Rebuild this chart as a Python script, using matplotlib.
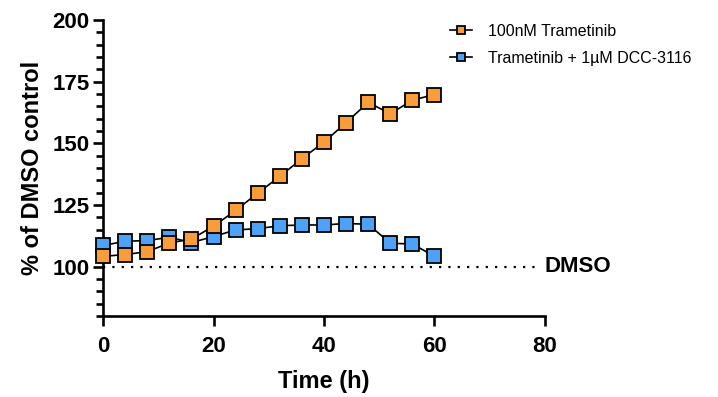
import matplotlib
matplotlib.use("Agg")
import matplotlib.pyplot as plt
from matplotlib.ticker import MultipleLocator

plt.rcParams['font.family'] = ['Liberation Sans', 'DejaVu Sans']

# time points (h)
time_h = [0, 4, 8, 12, 16, 20, 24, 28, 32, 36, 40, 44, 48, 52, 56, 60]
# % of DMSO control
trametinib = [104.2, 104.9, 106.1, 109.6, 111.2, 116.4, 122.8, 129.8, 136.6, 143.8,
              150.5, 158.4, 166.6, 162.0, 167.5, 169.8]
combo = [108.6, 110.3, 110.6, 111.9, 109.8, 112.2, 114.9, 115.4, 116.6, 116.9,
         116.9, 117.5, 117.2, 109.5, 109.2, 104.2]
labels = ["100nM Trametinib", "Trametinib + 1µM DCC-3116"]

fig = plt.figure(figsize=(7.18, 3.97), dpi=100)
ax = fig.add_axes([0.1435, 0.204, 0.6155, 0.7456])

ax.plot(time_h, trametinib, color='black', lw=1.2, marker='s', ms=10.5,
        mfc='#F99D3A', mec='black', mew=1.3, label=labels[0], zorder=4, clip_on=False)
ax.plot(time_h, combo, color='black', lw=1.2, marker='s', ms=10.5,
        mfc='#4DA1F7', mec='black', mew=1.3, label=labels[1], zorder=3, clip_on=False)

# DMSO reference line
ax.plot([0, 79], [100, 100], color='black', lw=1.6, ls=(0, (1, 3.2)), zorder=1)
ax.text(80, 100, "DMSO", fontsize=16, fontweight='bold', va='center', ha='left')

ax.set_xlim(0, 80)
ax.set_ylim(80, 200)
ax.set_xticks([0, 20, 40, 60, 80])
ax.set_yticks([100, 125, 150, 175, 200])
ax.yaxis.set_minor_locator(MultipleLocator(5))

for s in ['top', 'right']:
    ax.spines[s].set_visible(False)
for s in ['left', 'bottom']:
    ax.spines[s].set_linewidth(1.9)
    ax.spines[s].set_zorder(2)

ax.tick_params(axis='both', which='major', length=7.5, width=1.9, labelsize=16)
ax.tick_params(axis='x', which='major', pad=7)
ax.tick_params(axis='y', which='major', pad=2)
ax.tick_params(axis='y', which='minor', length=5, width=1.9)
for lab in ax.get_xticklabels() + ax.get_yticklabels():
    lab.set_fontweight('bold')

ax.set_xlabel("Time (h)", fontsize=17, fontweight='bold', labelpad=9)
ax.set_ylabel("% of DMSO control", fontsize=17, fontweight='bold', labelpad=6)

leg = ax.legend(loc='upper left', bbox_to_anchor=(0.752, 1.035), frameon=False,
                fontsize=11.5, markerscale=0.5, handlelength=1.4, handletextpad=1.0,
                labelspacing=0.75)

fig.savefig("out.png", dpi=100)
